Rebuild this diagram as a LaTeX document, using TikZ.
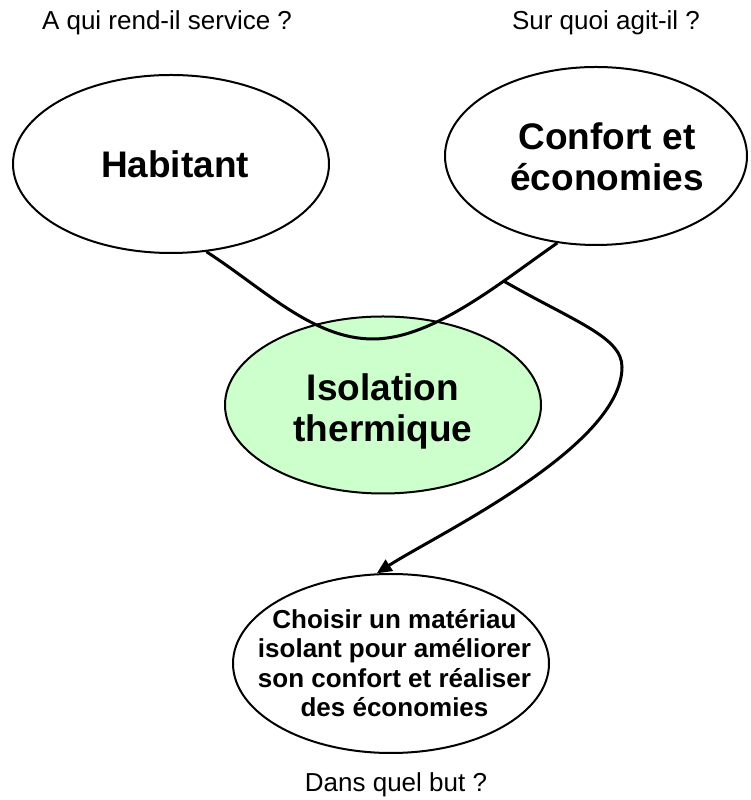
\documentclass[tikz,border=0pt]{standalone}
\usepackage{fontspec}
\setmainfont{Liberation Sans}
\usetikzlibrary{shapes.geometric,arrows.meta}
\definecolor{isogreen}{HTML}{CCFFCC}
\begin{document}
\begin{tikzpicture}[x=1pt,y=1pt,
  bulle/.style={ellipse, draw, line width=2pt, inner sep=0pt},
  etiquette/.style={inner sep=0pt, align=center, font=\fontsize{37}{41}\selectfont\bfseries},
  question/.style={inner sep=0pt, anchor=base, font=\fontsize{26}{30}\selectfont},
  lien/.style={line width=3pt},
]
\useasboundingbox (0,0) rectangle (750,800);
\fill[white] (0,0) rectangle (750,800);

% questions around the diagram
\node[question] (q-qui) at (167,770) {A qui rend-il service ?};
\node[question] (q-quoi) at (606,770) {Sur quoi agit-il ?};
\node[question] (q-but) at (396,9) {Dans quel but ?};

% the four bubbles
\node[bulle, minimum width=316pt, minimum height=178pt] (hab) at (171,636) {};
\node[bulle, minimum width=302pt, minimum height=178pt] (conf) at (596,644) {};
\node[bulle, fill=isogreen, minimum width=316pt, minimum height=177pt] (iso) at (383,395) {};
\node[bulle, minimum width=316pt, minimum height=179pt] (but) at (391,136.5) {};

% bubble texts
\node[etiquette, anchor=base] (hab-t) at (175,622) {Habitant};
\node[etiquette] (conf-t) at (607,643) {Confort et\\économies};
\node[etiquette] (iso-t) at (383,389) {Isolation\\thermique};
\node[etiquette, font=\fontsize{26}{29.6}\selectfont\bfseries] (but-t) at (394.5,137)
  {Choisir un matériau\\isolant pour améliorer\\son confort et réaliser\\des économies};

% the horns joining user and target
\coordinate (creux) at (373,461);
\draw[lien] (hab.-68) .. controls (264.6,510.6) and (313,461) .. (creux)
  .. controls (433,461) and (500.4,517.6) .. (conf.-114) coordinate[pos=0.7] (fourche);

% arrow towards the purpose
\coordinate (coude) at (622,433);
\draw[lien, -{Triangle[length=15pt,width=13pt]}] (fourche)
  .. controls (574.4,478.4) and (622,463) .. (coude)
  .. controls (622,353) and (435.3,264.6) .. (but.99);
\end{tikzpicture}
\end{document}
